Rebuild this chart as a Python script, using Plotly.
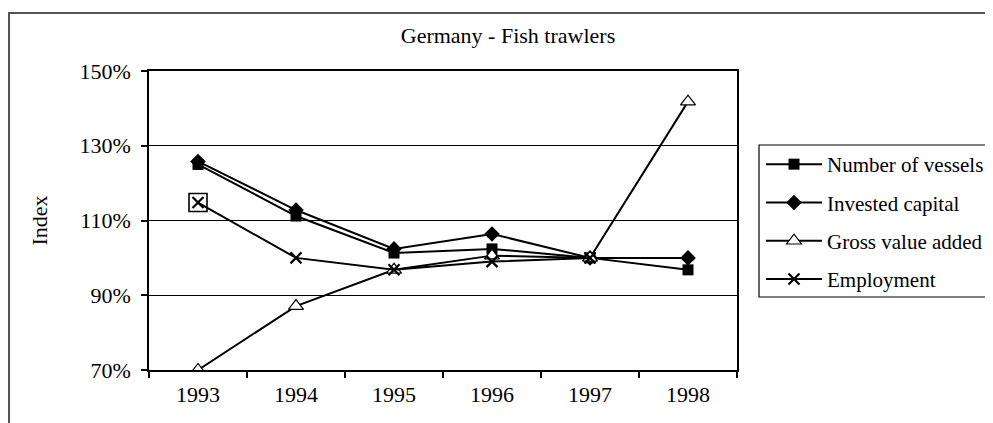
import plotly.graph_objects as go

years = ["1993", "1994", "1995", "1996", "1997", "1998"]
number_of_vessels = [125.0, 111.2, 101.3, 102.4, 100.0, 96.8]
invested_capital = [125.8, 112.8, 102.4, 106.4, 100.0, 100.0]
gross_value_added = [70.0, 87.1, 96.8, 100.6, 100.0, 141.8]
employment = [114.8, 100.0, 96.8, 99.0, 100.0, None]
y_ticks = [70, 90, 110, 130, 150]
y_tick_labels = ["70%", "90%", "110%", "130%", "150%"]

FONT = "Liberation Serif, Times New Roman, serif"
OFF = 8  # page body margin in the browser
W, H = 993 - OFF, 423 - OFF
L, R, T, B = 149 - OFF, 737 - OFF, 71 - OFF, 370 - OFF


def px(x):
    return (x - OFF - L) / (R - L)


def py(y):
    return (B - (y - OFF)) / (B - T)


fig = go.Figure()

fig.add_trace(go.Scatter(
    x=years, y=number_of_vessels, name="Number of vessels", legendgroup="a",
    mode="lines+markers", line=dict(color="black", width=2),
    marker=dict(symbol="square", size=11, color="black")))
fig.add_trace(go.Scatter(
    x=years, y=invested_capital, name="Invested capital", legendgroup="b",
    mode="lines+markers", line=dict(color="black", width=2),
    marker=dict(symbol="diamond", size=12, color="black")))
fig.add_trace(go.Scatter(
    x=years, y=gross_value_added, name="Gross value added", legendgroup="c",
    mode="lines+markers", line=dict(color="black", width=2),
    marker=dict(symbol="triangle-up", size=13, color="white",
                line=dict(color="black", width=1.2))))
fig.add_trace(go.Scatter(
    x=years, y=employment, name="Employment", legendgroup="d",
    mode="lines+markers", line=dict(color="black", width=2),
    marker=dict(symbol="x-thin-open", size=11, color="black",
                line=dict(color="black", width=2.2))))
fig.add_trace(go.Scatter(
    x=years[:1], y=employment[:1], showlegend=False, mode="markers",
    marker=dict(symbol="square-open", size=18, color="black",
                line=dict(color="black", width=1.6))))

shapes = [
    # outer chart frame (extends past the picture at right and bottom)
    dict(type="rect", xref="paper", yref="paper", x0=px(9), x1=px(1010),
         y0=py(440), y1=py(13), line=dict(color="#555555", width=2),
         layer="below"),
    # legend frame
    dict(type="rect", xref="paper", yref="paper", x0=px(759), x1=px(1010),
         y0=py(297), y1=py(145), line=dict(color="black", width=1.2)),
]

fig.update_layout(
    width=W, height=H,
    margin=dict(l=L, r=W - R, t=T, b=H - B, autoexpand=False),
    paper_bgcolor="white", plot_bgcolor="white",
    font=dict(family=FONT, size=22, color="black"),
    title=dict(text="Germany - Fish trawlers", x=px(508), xref="paper",
               xanchor="center", y=1 - (35 - OFF) / H, yanchor="middle",
               font=dict(family=FONT, size=22, color="black")),
    shapes=shapes,
    showlegend=True,
    legend=dict(x=px(761), xanchor="left", y=py(144), yanchor="top",
                bgcolor="rgba(0,0,0,0)", borderwidth=0,
                font=dict(family=FONT, size=21, color="black"),
                traceorder="grouped", tracegroupgap=8,
                itemwidth=56),
)

fig.update_xaxes(
    type="category", range=[-0.5, 5.5], showgrid=False,
    showline=True, linecolor="black", linewidth=1.5, mirror=True,
    ticks="outside", ticklen=6, tickcolor="black", tickwidth=1.5,
    tickson="boundaries", ticklabelstandoff=4,
    tickfont=dict(family=FONT, size=22, color="black"))

fig.update_yaxes(
    range=[70, 150], tickvals=y_ticks, ticktext=y_tick_labels,
    showgrid=True, gridcolor="black", gridwidth=1,
    showline=True, linecolor="black", linewidth=1.5, mirror=True,
    ticks="outside", ticklen=6, tickcolor="black", tickwidth=1.5,
    ticklabelstandoff=6, zeroline=False,
    tickfont=dict(family=FONT, size=22, color="black"),
    title=dict(text="Index", standoff=26,
               font=dict(family=FONT, size=22, color="black")))

fig.write_html("out.html")
